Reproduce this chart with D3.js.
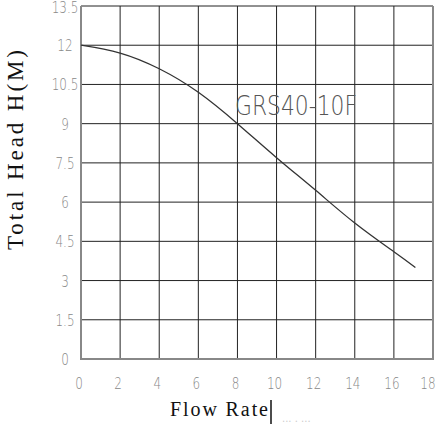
<!DOCTYPE html>
<html lang="en">
<head>
  <meta charset="UTF-8">
  <title>GRS40-10F pump curve</title>
  <script src="https://d3js.org/d3.v7.min.js"></script>
  <style>
    body { margin: 0; background: #fff; }
  </style>
</head>
<body>
  <script>

    // chart data
    var flowRates = [0, 2, 4, 6, 8, 10, 12, 14, 16, 17.1];
    var heads = [12, 11.7, 11.1, 10.2, 9.0, 7.7, 6.45, 5.2, 4.1, 3.5];
    var xTicks = [0, 2, 4, 6, 8, 10, 12, 14, 16, 18];
    var yTicks = [0, 1.5, 3, 4.5, 6, 7.5, 9, 10.5, 12, 13.5];
    var modelName = "GRS40-10F";

    var width = 436;
    var height = 427;
    // plot box
    var plotLeft = 81, plotRight = 433, plotTop = 6, plotBottom = 359;
    var thinFont = "'DejaVu Sans', sans-serif";

    var svg = d3.select("body")
      .append("svg")
        .attr("width", width)
        .attr("height", height);

    var x = d3.scaleLinear().domain([0, 18]).range([plotLeft, plotRight]);
    var y = d3.scaleLinear().domain([0, 13.5]).range([plotBottom, plotTop]);

    // grid lines
    svg.selectAll("line.vgrid")
      .data(xTicks.slice(1, -1))
      .enter()
      .append("line")
        .attr("x1", function(d) { return x(d); })
        .attr("x2", function(d) { return x(d); })
        .attr("y1", plotTop)
        .attr("y2", plotBottom)
        .attr("stroke", "#222")
        .attr("stroke-width", 1);

    svg.selectAll("line.hgrid")
      .data(yTicks.slice(1))
      .enter()
      .append("line")
        .attr("x1", plotLeft)
        .attr("x2", plotRight)
        .attr("y1", function(d) { return y(d); })
        .attr("y2", function(d) { return y(d); })
        .attr("stroke", "#222")
        .attr("stroke-width", 1);

    // frame (left, bottom, right)
    svg.append("path")
      .attr("d", "M" + plotLeft + "," + plotTop + "V" + plotBottom + "H" + plotRight + "V" + plotTop)
      .attr("fill", "none")
      .attr("stroke", "#888")
      .attr("stroke-width", 2);

    // tick labels (narrow, light digits)
    svg.selectAll("text.ytick")
      .data(yTicks)
      .enter()
      .append("text")
        .attr("transform", function(d) {
          var ty = Math.max(y(d) + 6, 13);
          return "translate(65," + ty + ") scale(0.8,1)";
        })
        .attr("text-anchor", "middle")
        .attr("font-family", thinFont)
        .attr("font-weight", 200)
        .attr("font-size", 15)
        .attr("fill", "#888")
        .text(function(d) { return d; });

    svg.selectAll("text.xtick")
      .data(xTicks)
      .enter()
      .append("text")
        .attr("transform", function(d) {
          var tx = Math.min(x(d) - 2, 428);
          return "translate(" + tx + ",389) scale(0.8,1)";
        })
        .attr("text-anchor", "middle")
        .attr("font-family", thinFont)
        .attr("font-weight", 200)
        .attr("font-size", 15)
        .attr("fill", "#888")
        .text(function(d) { return d; });

    // the curve
    var line = d3.line()
      .x(function(d) { return x(d[0]); })
      .y(function(d) { return y(d[1]); })
      .curve(d3.curveNatural);

    svg.append("path")
      .datum(d3.zip(flowRates, heads))
      .attr("d", line)
      .attr("fill", "none")
      .attr("stroke", "#333")
      .attr("stroke-width", 1.3);

    // model label
    svg.append("text")
      .attr("x", 235)
      .attr("y", 115)
      .attr("font-family", thinFont)
      .attr("font-weight", 200)
      .attr("font-size", 27)
      .attr("textLength", 122)
      .attr("lengthAdjust", "spacingAndGlyphs")
      .attr("fill", "#555")
      .text(modelName);

    // axis titles
    svg.append("text")
      .attr("transform", "translate(23,150) rotate(-90)")
      .attr("text-anchor", "middle")
      .attr("font-family", "'Liberation Serif', serif")
      .attr("font-size", 23)
      .attr("textLength", 200)
      .attr("fill", "#111")
      .text("Total Head H(M)");

    svg.append("text")
      .attr("x", 170)
      .attr("y", 416)
      .attr("font-family", "'Liberation Serif', serif")
      .attr("font-size", 20)
      .attr("textLength", 98)
      .attr("fill", "#111")
      .text("Flow Rate");

    svg.append("line")
      .attr("x1", 271).attr("x2", 271)
      .attr("y1", 400).attr("y2", 424)
      .attr("stroke", "#111")
      .attr("stroke-width", 1.5);

    svg.append("text")
      .attr("x", 282)
      .attr("y", 422)
      .attr("font-family", "DejaVu Sans")
      .attr("font-size", 10)
      .attr("fill", "#ccc")
      .text("... . ...");

  </script>
</body>
</html>
